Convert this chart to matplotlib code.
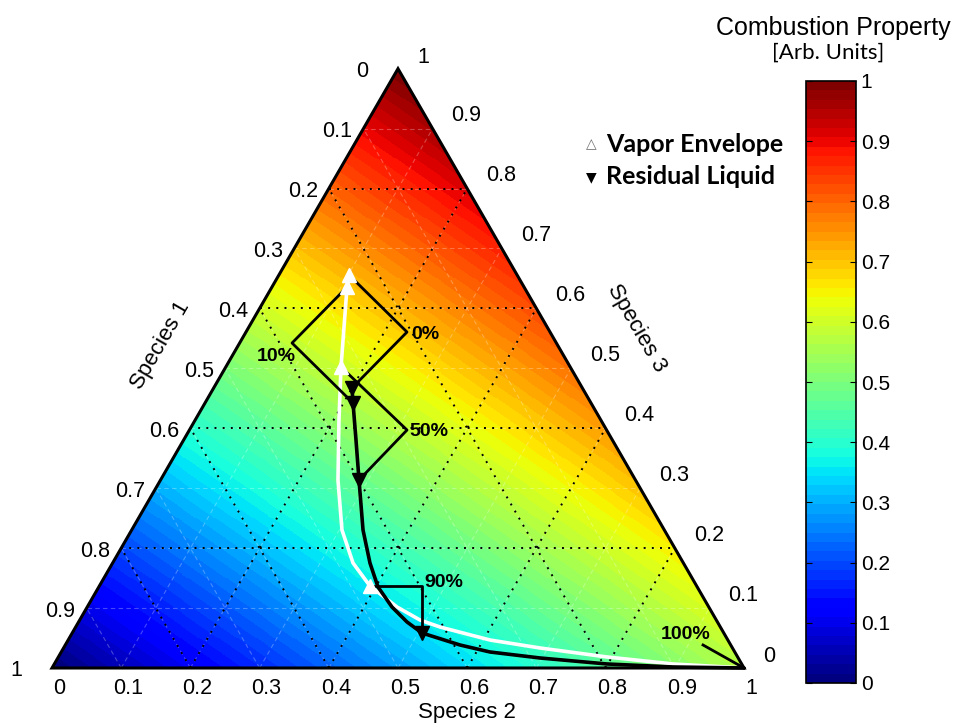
import numpy as np
import matplotlib
matplotlib.use("Agg")
import matplotlib.pyplot as plt
from matplotlib.patches import Polygon
from matplotlib.cm import ScalarMappable
from matplotlib.colors import Normalize

plt.rcParams['font.family'] = ['Liberation Sans', 'DejaVu Sans']

# colour value at the corners: Species 1 corner (bottom left), Species 2 corner (bottom right), Species 3 corner (top)
corner_values = [0.0, 0.57, 1.0]

# curves as (species 2 fraction, species 3 fraction)
vapor_s2 = [0.1013, 0.1085, 0.1665, 0.2078, 0.2564, 0.3039, 0.3474, 0.3911,
            0.4477, 0.4917, 0.5265, 0.6096, 0.6885, 0.7928, 0.8941, 1.0]
vapor_s3 = [0.6558, 0.6357, 0.5023, 0.4138, 0.3137, 0.2303, 0.1752, 0.1368,
            0.1018, 0.0801, 0.0684, 0.0467, 0.0334, 0.0184, 0.0067, 0.0]
liquid_s2 = [0.1999, 0.2139, 0.2491, 0.2868, 0.3343, 0.3719, 0.4035, 0.4404,
             0.4746, 0.5055, 0.5704, 0.6196, 0.6969, 0.7987, 0.8966, 1.0]
liquid_s3 = [0.4672, 0.4422, 0.3804, 0.3137, 0.2303, 0.1752, 0.1352, 0.1018,
             0.0768, 0.0584, 0.0384, 0.0267, 0.0167, 0.0067, 0.0017, 0.0]

# distilled fractions marked on both curves
mark_labels = ["0%", "10%", "50%", "90%", "100%"]
vapor_mark_s2 = [0.1013, 0.1085, 0.1665, 0.3911, 1.0]
vapor_mark_s3 = [0.6558, 0.6357, 0.5023, 0.1368, 0.0]
liquid_mark_s2 = [0.1999, 0.2139, 0.2868, 0.5055, 1.0]
liquid_mark_s3 = [0.4672, 0.4422, 0.3137, 0.0584, 0.0]

# where the label connectors meet (0%, 10%, 50%, 100%)
anchor_s2 = [0.2327, 0.0757, 0.3145, 0.9216]
anchor_s3 = [0.5606, 0.5423, 0.3971, 0.0384]
# label text positions
label_s2 = [0.2410, 0.0923, 0.3190, 0.4659, 0.8526]
label_s3 = [0.5557, 0.5206, 0.3938, 0.1435, 0.0551]
label_ha = ["left", "right", "left", "left", "left"]

ticks = np.round(np.arange(0, 1.01, 0.1), 1)
cbar_ticks = np.round(np.arange(0, 1.01, 0.1), 1)

H = np.sqrt(3) / 2


def tern(s2, s3):
    s2 = np.asarray(s2, dtype=float)
    s3 = np.asarray(s3, dtype=float)
    return s2 + s3 / 2, s3 * H


def fmt(v):
    if v == 0:
        return "0"
    if v == 1:
        return "1"
    return f"{v:.1f}"


fig = plt.figure(figsize=(9.6, 7.27), dpi=100)
ax = fig.add_axes([0, 0, 1, 1])
ax.set_xlim(-52 / 692, (960 - 52) / 692)
ax.set_ylim(-59 / 692, (727 - 59) / 692)
ax.axis('off')

# colour field, linear between the corner values
xg = np.linspace(0, 1, 700)
yg = np.linspace(0, H, 610)
XX, YY = np.meshgrid(xg, yg)
c3 = YY / H
c2 = XX - c3 / 2
c1 = 1 - c2 - c3
field = c1 * corner_values[0] + c2 * corner_values[1] + c3 * corner_values[2]
cmap = plt.get_cmap('jet', 64)
tri = Polygon([[0, 0], [1, 0], [0.5, H]], closed=True, fill=False,
              edgecolor='black', lw=2.2, zorder=10, transform=ax.transData)
im = ax.imshow(field, extent=[0, 1, 0, H], origin='lower', cmap=cmap,
               vmin=0, vmax=1, interpolation='nearest', aspect='auto', zorder=1)
ax.add_patch(tri)
im.set_clip_path(tri)

# faint grid at 0.1
for v in np.arange(0.1, 0.95, 0.1):
    for (b0, c0), (b1, c1_) in [((0, v), (1 - v, v)), ((v, 0), (v, 1 - v)), ((1 - v, 0), (0, 1 - v))]:
        x, y = tern([b0, b1], [c0, c1_])
        ax.plot(x, y, color='white', lw=0.8, alpha=0.28, ls=(0, (4, 3)), zorder=2)

# dotted grid at 0.2
for v in [0.2, 0.4, 0.6, 0.8]:
    for (b0, c0), (b1, c1_) in [((0, v), (1 - v, v)), ((v, 0), (v, 1 - v)), ((1 - v, 0), (0, 1 - v))]:
        x, y = tern([b0, b1], [c0, c1_])
        ax.plot(x, y, color='black', lw=1.4, ls=(0, (1, 3.2)), zorder=3)

# tick labels
for v in ticks:
    end = v in (0.0, 1.0)
    # left edge (Species 1)
    ax.annotate(fmt(round(1 - v, 1)), xy=tern(0, v), xytext=(-36 if end else -26, -3),
                textcoords='offset pixels', ha='center', va='center', fontsize=15.5)
    # right edge (Species 3)
    ax.annotate(fmt(v), xy=tern(1 - v, v), xytext=(25, 11) if end else (34, 13),
                textcoords='offset pixels', ha='center', va='center', fontsize=15.5)
    # bottom (Species 2)
    ax.annotate(fmt(v), xy=tern(v, 0), xytext=(7, -21),
                textcoords='offset pixels', ha='center', va='center', fontsize=15.5)

ax.text(0.5997, -0.0636, "Species 2", ha='center', va='center', fontsize=16)
ax.text(0.156, 0.4668, "Species 1", ha='center', va='center', fontsize=16, rotation=60)
ax.text(0.8454, 0.4913, "Species 3", ha='center', va='center', fontsize=16, rotation=-60)

# curves
vx, vy = tern(vapor_s2, vapor_s3)
lx, ly = tern(liquid_s2, liquid_s3)
ax.plot(vx, vy, color='white', lw=2.6, zorder=5, solid_capstyle='round')
ax.plot(lx, ly, color='black', lw=2.6, zorder=6, solid_capstyle='round')
mvx, mvy = tern(vapor_mark_s2, vapor_mark_s3)
mlx, mly = tern(liquid_mark_s2, liquid_mark_s3)
ax.plot(mvx[:4], mvy[:4], ls='none', marker='^', ms=10, mfc='white', mec='white', zorder=9)
ax.plot(mlx[:4], mly[:4], ls='none', marker='v', ms=10, mfc='black', mec='black', zorder=9)

# connectors
ax_, ay_ = tern(anchor_s2, anchor_s3)
for i in range(3):
    ax.plot([mvx[i], ax_[i], mlx[i]], [mvy[i], ay_[i], mly[i]], color='black', lw=2, zorder=8)
ax.plot([mvx[3], mlx[3], mlx[3]], [mvy[3], mvy[3], mly[3]], color='black', lw=2, zorder=8)
ax.plot([ax_[3], mvx[4]], [ay_[3], mvy[4]], color='black', lw=2, zorder=8)

tx, ty = tern(label_s2, label_s3)
for i, lab in enumerate(mark_labels):
    ax.text(tx[i], ty[i], lab, ha=label_ha[i], va='center', fontsize=14,
            fontweight='bold', zorder=9)

# legend
fig.text(591 / 960, 1 - 144 / 727, "\u25b3", ha='center', va='center', fontsize=10,
         color='#707070', family='DejaVu Sans')
fig.text(606 / 960, 1 - 144 / 727, "Vapor Envelope", ha='left', va='center',
         fontsize=18, fontweight='bold', family='Lato')
fig.text(591 / 960, 1 - 177 / 727, "\u25bc", ha='center', va='center', fontsize=10,
         color='black', family='DejaVu Sans')
fig.text(606 / 960, 1 - 177 / 727, "Residual Liquid", ha='left', va='center',
         fontsize=18, fontweight='bold', family='Lato')

# colorbar
cax = fig.add_axes([806 / 960, 1 - 683 / 727, 50 / 960, 602 / 727])
sm = ScalarMappable(norm=Normalize(0, 1), cmap=cmap)
cb = fig.colorbar(sm, cax=cax, ticks=cbar_ticks)
cb.ax.set_yticklabels([fmt(v) for v in cbar_ticks])
cb.ax.tick_params(labelsize=15, direction='in', length=4, right=True, left=True)
cb.outline.set_linewidth(1.2)
fig.text(833 / 960, 1 - 28 / 727, "Combustion Property", ha='center', va='center', fontsize=18)
fig.text(828 / 960, 1 - 53 / 727, "[Arb. Units]", ha='center', va='center', fontsize=16,
         family='Lato')

fig.savefig("out.png", dpi=100)
